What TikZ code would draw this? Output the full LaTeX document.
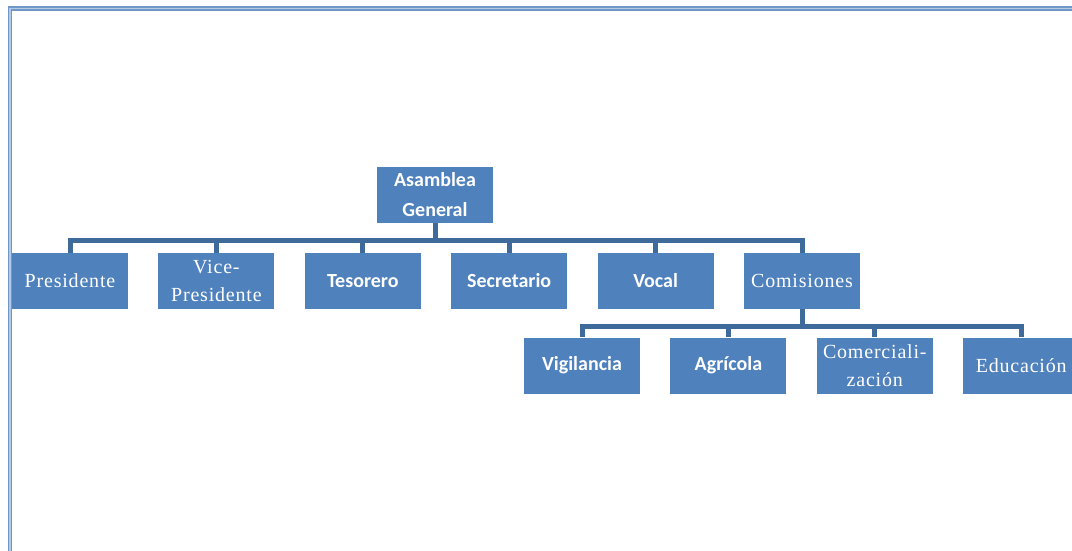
\documentclass[tikz,border=0pt]{standalone}
\usepackage{fontspec}
\setmainfont{Carlito}
\newfontfamily\thinfont[LetterSpace=4]{Liberation Serif}
\usetikzlibrary{positioning}

\definecolor{boxblue}{HTML}{4F81BD}
\definecolor{linkblue}{HTML}{3E6A9C}
\definecolor{framedark}{HTML}{6F98C8}
\definecolor{framelight}{HTML}{B4CAE4}

\begin{document}
\begin{tikzpicture}[x=1pt,y=1pt,node distance=30pt,
    box/.style={rectangle,fill=boxblue,text=white,minimum width=116pt,minimum height=56pt,
      inner sep=0pt,align=center,font=\bfseries\fontsize{20}{30}\selectfont},
    thin box/.style={box,font=\thinfont\fontsize{20}{28}\selectfont},
    link/.style={draw=linkblue,line width=5pt}]

  \useasboundingbox (0,0) rectangle (1072,-551);
  % frame
  \draw[framedark,line width=4.5pt] (10,-551) -- (10,-8.5) -- (1072,-8.5);
  \draw[framelight,line width=1.8pt] (10,-551) -- (10,-8.5) -- (1072,-8.5);

  \node[box] (asamblea) at (435,-195) {Asamblea\\General};

  \node[thin box] (pres) at (70,-281) {Presidente};
  \node[thin box] (vice) [right=of pres] {Vice-\\Presidente};
  \node[box] (tes) [right=of vice] {Tesorero};
  \node[box] (sec) [right=of tes] {Secretario};
  \node[box] (vocal) [right=of sec] {Vocal};
  \node[thin box] (com) [right=of vocal] {Comisiones};

  \node[box] (vig) at (582,-365.5) {Vigilancia};
  \node[box] (agr) [right=of vig] {Agr\'icola};
  \node[thin box] (comer) [right=of agr] {Comerciali-\\zaci\'on};
  \node[thin box] (edu) [right=of comer] {Educaci\'on};

  \foreach \n in {pres,vice,tes,sec,vocal,com}
    \draw[link] (asamblea.south) -- ++(0,-17) -| (\n.north);
  \foreach \n in {vig,agr,comer,edu}
    \draw[link] (com.south) -- ++(0,-17) -| (\n.north);

\end{tikzpicture}
\end{document}
